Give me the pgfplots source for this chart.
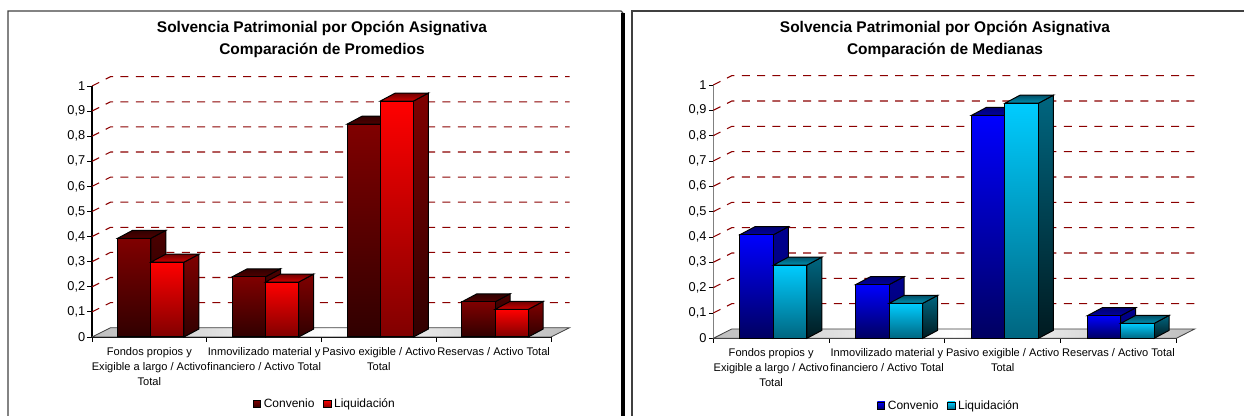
\documentclass[border=0pt]{standalone}
\usepackage{pgfplots}
\pgfplotsset{compat=1.18}
\usepackage{fontspec}
\setmainfont{Liberation Sans}
\definecolor{gridred}{HTML}{8B0000}
\definecolor{frameg}{HTML}{404040}
\definecolor{floorg}{HTML}{BEBEBE}
% left palette
\definecolor{cA}{HTML}{800000}\definecolor{cB}{HTML}{300000}
\definecolor{cC}{HTML}{4C0000}\definecolor{cD}{HTML}{180000}
\definecolor{cE}{HTML}{500000}\definecolor{cF}{HTML}{300000}
\definecolor{lA}{HTML}{FF0000}\definecolor{lB}{HTML}{800000}
\definecolor{lC}{HTML}{800000}\definecolor{lD}{HTML}{300000}
\definecolor{lE}{HTML}{D00000}\definecolor{lF}{HTML}{700000}
% right palette
\definecolor{bA}{HTML}{0000FF}\definecolor{bB}{HTML}{000060}
\definecolor{bC}{HTML}{000090}\definecolor{bD}{HTML}{000070}
\definecolor{bE}{HTML}{0000A0}\definecolor{bF}{HTML}{000070}
\definecolor{tA}{HTML}{00CCFF}\definecolor{tB}{HTML}{006680}
\definecolor{tC}{HTML}{006680}\definecolor{tD}{HTML}{001A20}
\definecolor{tE}{HTML}{0090B0}\definecolor{tF}{HTML}{005068}
% panel geometry: px per category, px per unit of y, bar width in px
\newcommand{\SetPanel}[3]{\def\W{#1}\def\H{#2}\def\BW{#3}}
\newcommand{\GridLine}[1]{%
  \pgfmathsetmacro{\ga}{18.5/\W}\pgfmathsetmacro{\gb}{#1+9.3/\H}\pgfmathsetmacro{\gc}{4+18.5/\W}%
  \edef\temp{\noexpand\addplot[draw=gridred,line width=0.8pt,dash pattern=on 6pt off 5.5pt,forget plot]
    coordinates {(0,#1)(\ga,\gb)(\gc,\gb)};}\temp}
\newcommand{\Floor}{%
  \pgfmathsetmacro{\ga}{18.5/\W}\pgfmathsetmacro{\gb}{9.3/\H}\pgfmathsetmacro{\gc}{4+18.5/\W}%
  \edef\temp{\noexpand\addplot[draw=frameg,line width=0.6pt,left color=floorg,right color=floorg,middle color=white,forget plot]
    coordinates {(0,0)(\ga,\gb)(\gc,\gb)(4,0)} --cycle;}\temp}
% a whole bar: category #1, value #2, series shift #3 (px); colours: front #4 #5, side #6 #7, top #8 #9
\newcommand{\Bar}[9]{%
  \pgfmathsetmacro{\xa}{#1+0.5+(#3-\BW/2)/\W}%
  \pgfmathsetmacro{\xb}{#1+0.5+(#3+\BW/2)/\W}%
  \pgfmathsetmacro{\xc}{\xb+15/\W}%
  \pgfmathsetmacro{\xd}{\xa+15/\W}%
  \pgfmathsetmacro{\xm}{#1+0.5}%
  \pgfmathsetmacro{\yu}{8/\H}%
  \pgfmathsetmacro{\yt}{#2+\yu}%
  \pgfmathsetmacro{\bs}{#3*0.75}%
  \pgfmathsetmacro{\bw}{\BW*0.75}%
  \edef\temp{\noexpand\addplot[draw=black,line width=0.75pt,top color=#6,bottom color=#7,forget plot]
    coordinates {(\xb,#2)(\xc,\yt)(\xc,\yu)(\xb,0)} --cycle;
    \noexpand\addplot[draw=black,line width=0.75pt,top color=#9,bottom color=#8,forget plot]
    coordinates {(\xa,#2)(\xd,\yt)(\xc,\yt)(\xb,#2)} --cycle;
    \noexpand\addplot[ybar,bar width=\bw pt,bar shift=\bs pt,draw=black,line width=0.75pt,top color=#4,bottom color=#5,forget plot]
    coordinates {(\xm,#2)};}\temp}
\pgfplotsset{panel/.style={
  scale only axis,anchor=south west,
  xmin=0,xmax=4,ymin=0,ymax=1,clip=false,
  axis x line=bottom,axis y line=left,
  axis line style={-,line width=0.8pt},
  xtick={0.5,1.5,2.5,3.5},
  minor xtick={0,1,2,3,4},
  major x tick style={draw=none},
  minor x tick style={black,line width=0.6pt},
  minor tick length=3.4pt,
  ytick={0,0.1,0.2,0.3,0.4,0.5,0.6,0.7,0.8,0.9,1},
  yticklabels={0,{0,1},{0,2},{0,3},{0,4},{0,5},{0,6},{0,7},{0,8},{0,9},1},
  y tick style={black,line width=0.6pt},
  major tick length=3.4pt,
  tick align=outside,
  tick label style={font=\fontsize{9.6}{11}\selectfont},
  xticklabels={{Fondos propios y\\Exigible a largo / Activo\\Total},
    {Inmovilizado material y\\financiero / Activo Total},
    {Pasivo exigible / Activo\\Total},
    {Reservas / Activo Total}},
  xticklabel style={font=\fontsize{8.3}{11.2}\selectfont,align=center,anchor=north,yshift=-4pt,inner sep=0pt},
  yticklabel style={inner sep=1.5pt},
  title style={font=\fontsize{11.6}{16.4}\selectfont\bfseries,align=center,anchor=center},
  legend columns=2,
  legend cell align=left,
  legend style={draw=none,fill=none,inner sep=0pt,outer sep=0pt,anchor=center,
    font=\fontsize{9}{11}\selectfont,
    /tikz/every even column/.style={column sep=4.5pt}},
}}
\newcommand{\KeySq}[2]{\addlegendimage{legend image code/.code={%
  \path[draw=black,line width=0.6pt,top color=#1,bottom color=#2] (0pt,-2.8pt) rectangle (5.6pt,2.8pt);}}}
\begin{document}
\begin{tikzpicture}[x=0.75pt,y=0.75pt]
\path[use as bounding box] (0,0) rectangle (1244,416);
% frames
\draw[frameg,line width=1pt] (8,0)--(8,405)--(621,405)--(623,403);
\draw[black,line width=3pt] (623,0)--(623,403);
\draw[frameg,line width=1pt] (632,0)--(632,405)--(1244,405);
%---------------- left
\SetPanel{114.75}{251}{33.2}
\begin{axis}[panel,at={(69pt,59.25pt)},width=344.25pt,height=188.25pt,
  title={Solvencia Patrimonial por Opción Asignativa\\Comparación de Promedios},
  title style={at={(0.501,1.155)}},
  legend style={at={(0.508,-0.2665)}}]
\KeySq{cA}{cB}\addlegendentry{Convenio}
\KeySq{lA}{lB}\addlegendentry{Liquidación}
\Floor
\GridLine{0.1}\GridLine{0.2}\GridLine{0.3}\GridLine{0.4}\GridLine{0.5}
\GridLine{0.6}\GridLine{0.7}\GridLine{0.8}\GridLine{0.9}\GridLine{1}
% Convenio
\Bar{0}{0.393}{-15.2}{cA}{cB}{cC}{cD}{cE}{cF}
\Bar{1}{0.240}{-15.2}{cA}{cB}{cC}{cD}{cE}{cF}
\Bar{2}{0.848}{-15.2}{cA}{cB}{cC}{cD}{cE}{cF}
\Bar{3}{0.140}{-15.2}{cA}{cB}{cC}{cD}{cE}{cF}
% Liquidacion
\Bar{0}{0.298}{18}{lA}{lB}{lC}{lD}{lE}{lF}
\Bar{1}{0.219}{18}{lA}{lB}{lC}{lD}{lE}{lF}
\Bar{2}{0.940}{18}{lA}{lB}{lC}{lD}{lE}{lF}
\Bar{3}{0.110}{18}{lA}{lB}{lC}{lD}{lE}{lF}
\end{axis}
%---------------- right
\SetPanel{115.75}{253.3}{33.5}
\begin{axis}[panel,at={(534.975pt,58.275pt)},width=347.25pt,height=190pt,
  y axis line style={draw=gray,line width=1pt},
  title={Solvencia Patrimonial por Opción Asignativa\\Comparación de Medianas},
  title style={at={(0.5004,1.148)}},
  legend style={at={(0.5095,-0.266)}}]
\KeySq{bA}{bB}\addlegendentry{Convenio}
\KeySq{tA}{tB}\addlegendentry{Liquidación}
\Floor
\GridLine{0.1}\GridLine{0.2}\GridLine{0.3}\GridLine{0.4}\GridLine{0.5}
\GridLine{0.6}\GridLine{0.7}\GridLine{0.8}\GridLine{0.9}\GridLine{1}
% Convenio
\Bar{0}{0.409}{-14.45}{bA}{bB}{bC}{bD}{bE}{bF}
\Bar{1}{0.212}{-14.45}{bA}{bB}{bC}{bD}{bE}{bF}
\Bar{2}{0.880}{-14.45}{bA}{bB}{bC}{bD}{bE}{bF}
\Bar{3}{0.089}{-14.45}{bA}{bB}{bC}{bD}{bE}{bF}
% Liquidacion
\Bar{0}{0.289}{19.05}{tA}{tB}{tC}{tD}{tE}{tF}
\Bar{1}{0.138}{19.05}{tA}{tB}{tC}{tD}{tE}{tF}
\Bar{2}{0.928}{19.05}{tA}{tB}{tC}{tD}{tE}{tF}
\Bar{3}{0.059}{19.05}{tA}{tB}{tC}{tD}{tE}{tF}
\end{axis}
\end{tikzpicture}
\end{document}
